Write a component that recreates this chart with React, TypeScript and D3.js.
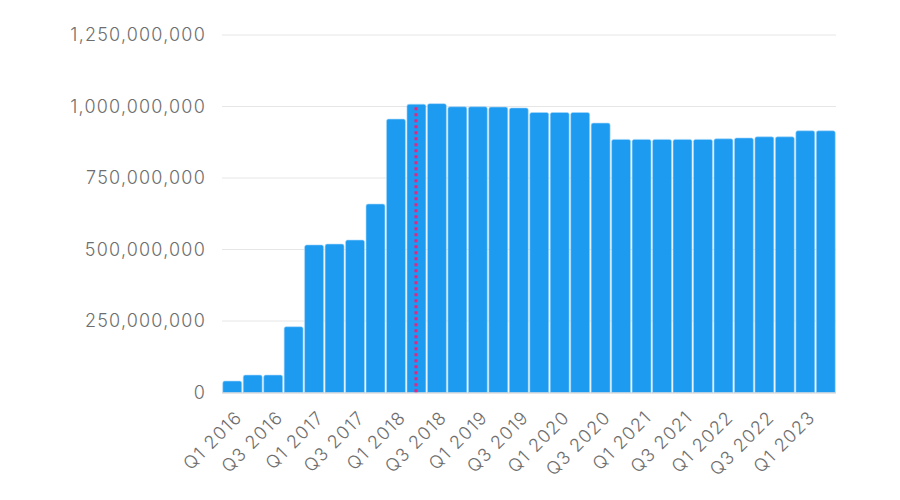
import React from "react";
import * as d3 from "d3";

const quarters: string[] = [
  "Q1 2016", "Q2 2016", "Q3 2016", "Q4 2016",
  "Q1 2017", "Q2 2017", "Q3 2017", "Q4 2017",
  "Q1 2018", "Q2 2018", "Q3 2018", "Q4 2018",
  "Q1 2019", "Q2 2019", "Q3 2019", "Q4 2019",
  "Q1 2020", "Q2 2020", "Q3 2020", "Q4 2020",
  "Q1 2021", "Q2 2021", "Q3 2021", "Q4 2021",
  "Q1 2022", "Q2 2022", "Q3 2022", "Q4 2022",
  "Q1 2023", "Q2 2023",
];

const values: number[] = [
  40e6, 61e6, 61e6, 230e6,
  516e6, 519e6, 533e6, 659e6,
  956e6, 1008e6, 1010e6, 999e6,
  999e6, 998e6, 995e6, 979e6,
  979e6, 979e6, 942e6, 885e6,
  885e6, 885e6, 885e6, 885e6,
  887e6, 890e6, 894e6, 894e6,
  915e6, 915e6,
];

const yTicks: number[] = [0, 250e6, 500e6, 750e6, 1000e6, 1250e6];
const markerQuarter = "Q2 2018";

const W = 900;
const H = 500;
const left = 222;
const right = 836;
const top = 35;
const bottom = 392.5;

export default function App() {
  const xb = d3.scaleBand<string>().domain(quarters).range([left, right]);
  const y = d3.scaleLinear().domain([0, 1250e6]).range([bottom, top]);
  const fmt = d3.format(",");
  const font = "Inter, Roboto, 'Noto Sans', sans-serif";
  const markerIdx = quarters.indexOf(markerQuarter);
  const mx = Math.round((xb(markerQuarter) as number) + xb.bandwidth() / 2);

  return (
    <svg width={W} height={H} style={{ position: "absolute", left: 0, top: 0 }} fontFamily={font}>
      <rect width={W} height={H} fill="#fff" />
      {yTicks.map((t) => (
        <g key={t}>
          {t > 0 && <line x1={left} x2={right} y1={y(t)} y2={y(t)} stroke="#e6e6e6" strokeWidth={1} />}
          <text x={206} y={y(t)} dy="0.35em" textAnchor="end" fontSize={18} fontWeight={300} fill="#6e6e6e" letterSpacing={1.2}>
            {fmt(t)}
          </text>
        </g>
      ))}
      {quarters.map((q, i) => {
        const bx = xb(q) as number;
        const bw = xb.bandwidth();
        const yy = y(values[i]);
        return (
          <path
            key={q}
            d={`M${bx + 0.75},${bottom} V${yy + 2} Q${bx + 0.75},${yy} ${bx + 2.75},${yy} H${bx + bw - 2.75} Q${bx + bw - 0.75},${yy} ${bx + bw - 0.75},${yy + 2} V${bottom} Z`}
            fill="#1d9bf0"
            stroke="#a8d8fa"
            strokeWidth={0.6}
          />
        );
      })}
      <line x1={left} x2={right} y1={bottom + 0.5} y2={bottom + 0.5} stroke="#cccccc" strokeWidth={1} />
      <line
        x1={mx}
        x2={mx}
        y1={y(values[markerIdx]) + 3}
        y2={bottom}
        stroke="#e8247f"
        strokeWidth={3}
        strokeDasharray="3,3"
      />
      {quarters.map((q, i) =>
        i % 2 === 0 ? (
          <text
            key={q}
            transform={`translate(${(xb(q) as number) + xb.bandwidth() / 2 + 11},${bottom + 26}) rotate(-45)`}
            textAnchor="end"
            fontSize={18}
            fontWeight={300}
            fill="#6e6e6e"
            letterSpacing={1.2}
          >
            {q}
          </text>
        ) : null
      )}
    </svg>
  );
}
